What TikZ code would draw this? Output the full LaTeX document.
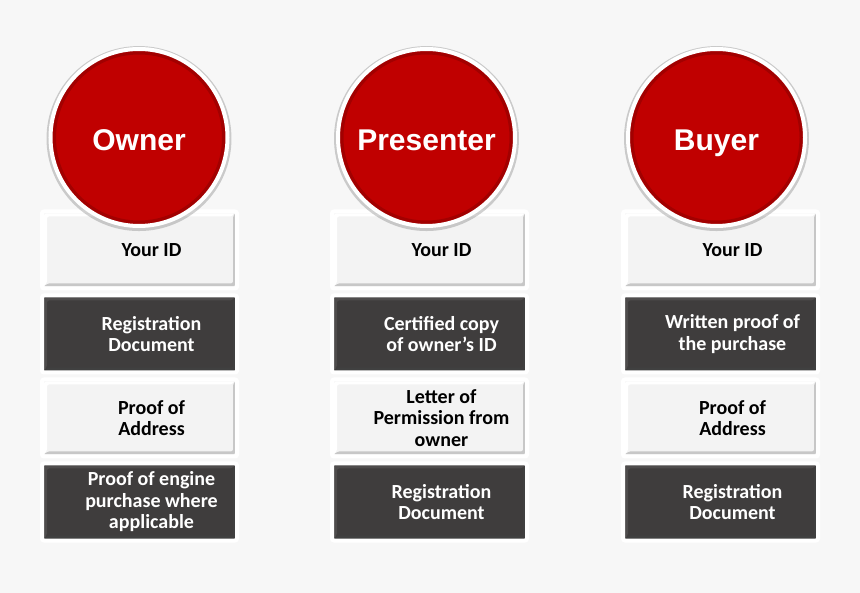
\documentclass[tikz,border=0pt]{standalone}
\usepackage{fontspec}
\setmainfont{Carlito}
\newfontfamily\headfont{Liberation Sans}
\usetikzlibrary{shadows}
\definecolor{bg}{RGB}{247,247,247}
\definecolor{cred}{RGB}{192,0,0}
\definecolor{boxlight}{RGB}{243,243,243}
\definecolor{boxdark}{RGB}{63,61,61}
\tikzset{
	bevel/.style 2 args={path picture={
		\fill[#1] ([shift={(2pt,-2pt)}]path picture bounding box.north west) -- ([shift={(-2pt,-2pt)}]path picture bounding box.north east) -- ([shift={(-5pt,-5pt)}]path picture bounding box.north east) -- ([shift={(5pt,-5pt)}]path picture bounding box.north west) -- ([shift={(5pt,5pt)}]path picture bounding box.south west) -- ([shift={(2pt,2pt)}]path picture bounding box.south west) -- cycle;
		\fill[#2] ([shift={(2pt,2pt)}]path picture bounding box.south west) -- ([shift={(-2pt,2pt)}]path picture bounding box.south east) -- ([shift={(-2pt,-2pt)}]path picture bounding box.north east) -- ([shift={(-4pt,-4pt)}]path picture bounding box.north east) -- ([shift={(-4pt,5pt)}]path picture bounding box.south east) -- ([shift={(5pt,5pt)}]path picture bounding box.south west) -- cycle;
	}},
	head/.style={circle,minimum size=177pt,fill=cred,draw=white,line width=4pt,
		general shadow={fill=black,opacity=0.18,shadow scale=1.045,shadow yshift=-1pt},
		path picture={\draw[cred!70!black,line width=4pt,opacity=0.5] (path picture bounding box.center) circle (85pt);},
		text=white,font=\headfont\bfseries\fontsize{30}{36}\selectfont,
		text height=26.5pt,text depth=0pt},
	box/.style={rectangle,minimum width=195pt,minimum height=77pt,draw=white,line width=4pt,rounded corners=2pt,
		general shadow={fill=black,opacity=0.14,xscale=1.028,yscale=1.07,shadow yshift=-1pt}},
	lbox/.style={box,fill=boxlight,bevel={white}{black!22}},
	dbox/.style={box,fill=boxdark,bevel={boxdark!92!white}{black!75}},
	item/.style={align=center,font=\bfseries\fontsize{20}{21.5}\selectfont},
	litem/.style={item,text=black},
	ditem/.style={item,text=white}
}
\begin{document}
\begin{tikzpicture}[x=1pt,y=-1pt]
	\fill[bg] (0,0) rectangle (860,593);

	% owner
	\node[lbox] (own1) at (139.5,250) {};
	\node[dbox] (own2) at (139.5,334) {};
	\node[lbox] (own3) at (139.5,418) {};
	\node[dbox] (own4) at (139.5,502) {};
	\node[litem] (own1t) at ([xshift=12pt]own1.center) {Your ID};
	\node[ditem] (own2t) at ([xshift=12pt]own2.center) {Registration\\Document};
	\node[litem] (own3t) at ([xshift=12pt]own3.center) {Proof of\\Address};
	\node[ditem] (own4t) at ([xshift=12pt]own4.center) {Proof of engine\\purchase where\\applicable};
	\node[head] (owner) at (139,137.5) {Owner};

	% presenter
	\node[lbox] (pre1) at (429.5,250) {};
	\node[dbox] (pre2) at (429.5,334) {};
	\node[lbox] (pre3) at (429.5,418) {};
	\node[dbox] (pre4) at (429.5,502) {};
	\node[litem] (pre1t) at ([xshift=12pt]pre1.center) {Your ID};
	\node[ditem] (pre2t) at ([xshift=12pt]pre2.center) {Certified copy\\of owner’s ID};
	\node[litem] (pre3t) at ([xshift=12pt]pre3.center) {Letter of\\Permission from\\owner};
	\node[ditem] (pre4t) at ([xshift=12pt]pre4.center) {Registration\\Document};
	\node[head] (presenter) at (426.5,137.5) {Presenter};

	% buyer
	\node[lbox] (buy1) at (720.5,250) {};
	\node[dbox] (buy2) at (720.5,334) {};
	\node[lbox] (buy3) at (720.5,418) {};
	\node[dbox] (buy4) at (720.5,502) {};
	\node[litem] (buy1t) at ([xshift=12pt]buy1.center) {Your ID};
	\node[ditem] (buy2t) at ([xshift=12pt]buy2.center) {Written proof of\\the purchase};
	\node[litem] (buy3t) at ([xshift=12pt]buy3.center) {Proof of\\Address};
	\node[ditem] (buy4t) at ([xshift=12pt]buy4.center) {Registration\\Document};
	\node[head] (buyer) at (716.5,137.5) {Buyer};
\end{tikzpicture}
\end{document}
